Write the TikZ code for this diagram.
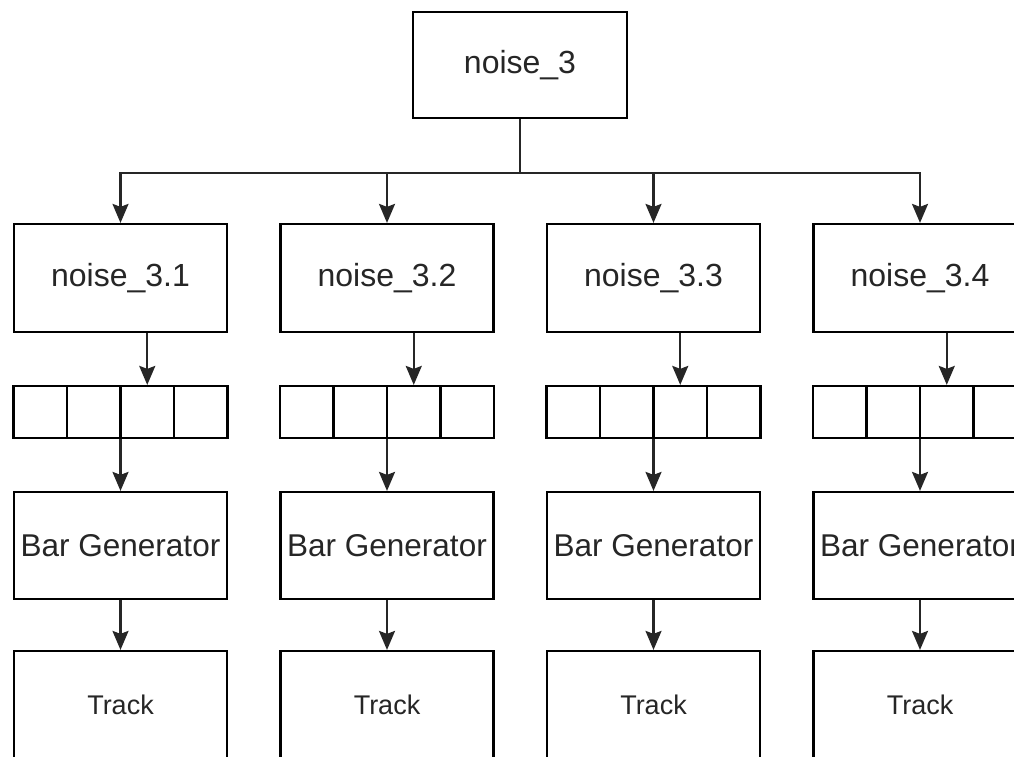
\documentclass[tikz,border=0pt]{standalone}
\usepackage{fontspec}
\setmainfont{Liberation Sans}
\usetikzlibrary{arrows.meta}
\begin{document}
\begin{tikzpicture}[x=1pt,y=-1pt,
  box/.style={draw=black,line width=2.2pt,rectangle,inner sep=0pt,fill=white,text=black!85},
  cellbox/.style={draw=black,line width=2.2pt,rectangle,inner sep=0pt,minimum width=53.5pt,minimum height=52pt},
  arr/.style={draw=black!85,line width=2.2pt,-{Stealth[length=19pt,width=16pt,inset=3pt]}},
  noisefont/.style={font=\fontsize{32}{38}\selectfont},
  bgfont/.style={font=\fontsize{31.5}{38}\selectfont},
  trfont/.style={font=\fontsize{27}{32}\selectfont}]
\useasboundingbox (0,0) rectangle (1014,757);
\clip (0,0) rectangle (1014,757);
\fill[white] (0,0) rectangle (1014,757);
\node[box,noisefont,minimum width=214pt,minimum height=106pt] (top) at (520,65) {noise\_3};
\foreach \i in {1,...,4}{
  \pgfmathsetmacro{\cx}{120.5+(\i-1)*266.5}
  \node[box,noisefont,minimum width=213pt,minimum height=108pt] (n\i) at (\cx,278) {noise\_3.\i};
  \foreach \j in {1,...,4}{
    \pgfmathsetmacro{\px}{\cx-80.25+(\j-1)*53.5}
    \node[cellbox] (c\i\j) at (\px,412) {};
  }
  \node[box,bgfont,minimum width=213pt,minimum height=107pt] (bg\i) at (\cx,545.5) {Bar Generator};
  \node[box,trfont,minimum width=213pt,minimum height=110pt] (tr\i) at (\cx,706) {};
  \node[trfont,text=black!85] (trl\i) at (\cx,705) {Track};
  \draw[arr] (top.south) -- ++(0,54) -| (n\i.north);
  \draw[arr] (n\i.south -| c\i3.north) -- (c\i3.north);
  \draw[arr] (bg\i.north |- c\i2.south) -- (bg\i.north);
  \draw[arr] (bg\i.south) -- (tr\i.north);
}
\end{tikzpicture}
\end{document}
